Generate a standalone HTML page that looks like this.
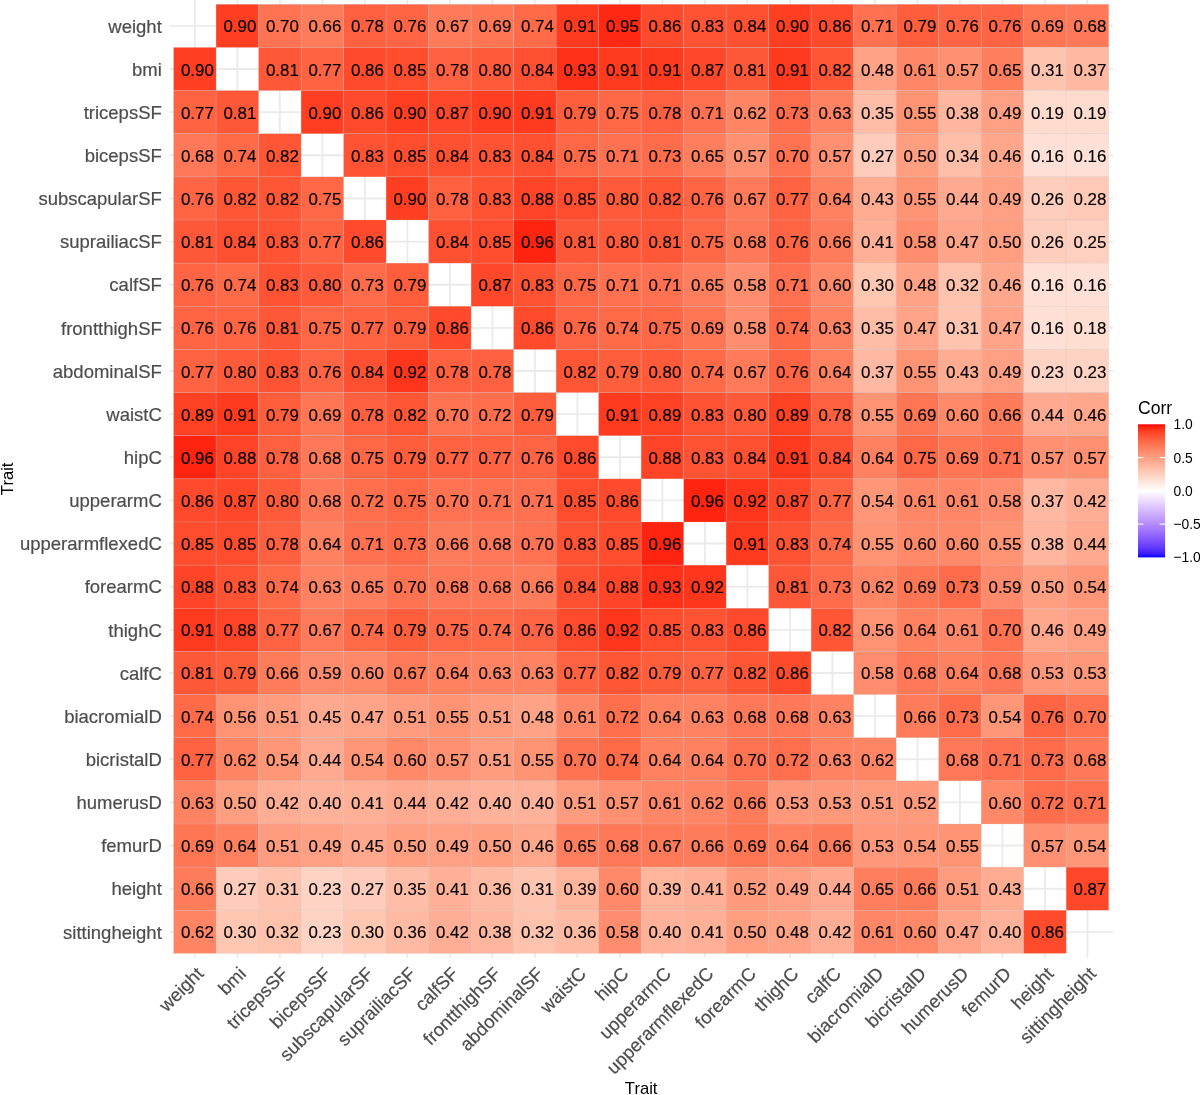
<!DOCTYPE html>
<html lang="en"><head><meta charset="utf-8"><title>Trait correlation heatmap</title>
<style>html,body{margin:0;padding:0;background:#fff}svg{display:block}text{font-family:"Liberation Sans",Arial,Helvetica,sans-serif}.t{font-size:16.9px;fill:#000;text-anchor:middle;stroke:#000;stroke-width:0.15px}.ay{font-size:18.5px;fill:#4d4d4d;text-anchor:end;stroke:#4d4d4d;stroke-width:0.2px}.ax{font-size:18.5px;fill:#4d4d4d;text-anchor:end;stroke:#4d4d4d;stroke-width:0.2px}.ti{font-size:16.6px;fill:#000}.lg{font-size:13.85px;fill:#000}</style></head><body>
<svg width="1200" height="1095" viewBox="0 0 1200 1095">
<rect width="1200" height="1095" fill="#fff"/>
<g stroke="#ebebeb" stroke-width="1.9">
<line x1="194.85" y1="-0.01" x2="194.85" y2="957.71"/>
<line x1="169.35" y1="25.87" x2="1112.95" y2="25.87"/>
<line x1="237.36" y1="-0.01" x2="237.36" y2="957.71"/>
<line x1="169.35" y1="69.01" x2="1112.95" y2="69.01"/>
<line x1="279.86" y1="-0.01" x2="279.86" y2="957.71"/>
<line x1="169.35" y1="112.15" x2="1112.95" y2="112.15"/>
<line x1="322.37" y1="-0.01" x2="322.37" y2="957.71"/>
<line x1="169.35" y1="155.29" x2="1112.95" y2="155.29"/>
<line x1="364.87" y1="-0.01" x2="364.87" y2="957.71"/>
<line x1="169.35" y1="198.43" x2="1112.95" y2="198.43"/>
<line x1="407.38" y1="-0.01" x2="407.38" y2="957.71"/>
<line x1="169.35" y1="241.58" x2="1112.95" y2="241.58"/>
<line x1="449.88" y1="-0.01" x2="449.88" y2="957.71"/>
<line x1="169.35" y1="284.72" x2="1112.95" y2="284.72"/>
<line x1="492.38" y1="-0.01" x2="492.38" y2="957.71"/>
<line x1="169.35" y1="327.86" x2="1112.95" y2="327.86"/>
<line x1="534.89" y1="-0.01" x2="534.89" y2="957.71"/>
<line x1="169.35" y1="371.00" x2="1112.95" y2="371.00"/>
<line x1="577.39" y1="-0.01" x2="577.39" y2="957.71"/>
<line x1="169.35" y1="414.14" x2="1112.95" y2="414.14"/>
<line x1="619.90" y1="-0.01" x2="619.90" y2="957.71"/>
<line x1="169.35" y1="457.28" x2="1112.95" y2="457.28"/>
<line x1="662.40" y1="-0.01" x2="662.40" y2="957.71"/>
<line x1="169.35" y1="500.42" x2="1112.95" y2="500.42"/>
<line x1="704.91" y1="-0.01" x2="704.91" y2="957.71"/>
<line x1="169.35" y1="543.56" x2="1112.95" y2="543.56"/>
<line x1="747.41" y1="-0.01" x2="747.41" y2="957.71"/>
<line x1="169.35" y1="586.70" x2="1112.95" y2="586.70"/>
<line x1="789.92" y1="-0.01" x2="789.92" y2="957.71"/>
<line x1="169.35" y1="629.84" x2="1112.95" y2="629.84"/>
<line x1="832.42" y1="-0.01" x2="832.42" y2="957.71"/>
<line x1="169.35" y1="672.98" x2="1112.95" y2="672.98"/>
<line x1="874.93" y1="-0.01" x2="874.93" y2="957.71"/>
<line x1="169.35" y1="716.12" x2="1112.95" y2="716.12"/>
<line x1="917.43" y1="-0.01" x2="917.43" y2="957.71"/>
<line x1="169.35" y1="759.27" x2="1112.95" y2="759.27"/>
<line x1="959.93" y1="-0.01" x2="959.93" y2="957.71"/>
<line x1="169.35" y1="802.41" x2="1112.95" y2="802.41"/>
<line x1="1002.44" y1="-0.01" x2="1002.44" y2="957.71"/>
<line x1="169.35" y1="845.55" x2="1112.95" y2="845.55"/>
<line x1="1044.94" y1="-0.01" x2="1044.94" y2="957.71"/>
<line x1="169.35" y1="888.69" x2="1112.95" y2="888.69"/>
<line x1="1087.45" y1="-0.01" x2="1087.45" y2="957.71"/>
<line x1="169.35" y1="931.83" x2="1112.95" y2="931.83"/>
</g>
<g stroke="#bebebe" stroke-opacity="0.35" stroke-width="0.6">
<rect x="216.10" y="4.30" width="42.50" height="43.14" fill="#ff3e22"/>
<rect x="258.61" y="4.30" width="42.50" height="43.14" fill="#ff7352"/>
<rect x="301.11" y="4.30" width="42.50" height="43.14" fill="#ff7c5b"/>
<rect x="343.62" y="4.30" width="42.50" height="43.14" fill="#ff603f"/>
<rect x="386.12" y="4.30" width="42.50" height="43.14" fill="#ff6544"/>
<rect x="428.63" y="4.30" width="42.50" height="43.14" fill="#ff7a59"/>
<rect x="471.13" y="4.30" width="42.50" height="43.14" fill="#ff7654"/>
<rect x="513.64" y="4.30" width="42.50" height="43.14" fill="#ff6a49"/>
<rect x="556.14" y="4.30" width="42.50" height="43.14" fill="#ff3a1f"/>
<rect x="598.65" y="4.30" width="42.50" height="43.14" fill="#ff2913"/>
<rect x="641.15" y="4.30" width="42.50" height="43.14" fill="#ff4a2c"/>
<rect x="683.65" y="4.30" width="42.50" height="43.14" fill="#ff5333"/>
<rect x="726.16" y="4.30" width="42.50" height="43.14" fill="#ff5031"/>
<rect x="768.66" y="4.30" width="42.50" height="43.14" fill="#ff3e22"/>
<rect x="811.17" y="4.30" width="42.50" height="43.14" fill="#ff4a2c"/>
<rect x="853.67" y="4.30" width="42.50" height="43.14" fill="#ff7150"/>
<rect x="896.18" y="4.30" width="42.50" height="43.14" fill="#ff5e3d"/>
<rect x="938.68" y="4.30" width="42.50" height="43.14" fill="#ff6544"/>
<rect x="981.19" y="4.30" width="42.50" height="43.14" fill="#ff6544"/>
<rect x="1023.69" y="4.30" width="42.50" height="43.14" fill="#ff7654"/>
<rect x="1066.20" y="4.30" width="42.50" height="43.14" fill="#ff7857"/>
<rect x="173.60" y="47.44" width="42.50" height="43.14" fill="#ff3e22"/>
<rect x="258.61" y="47.44" width="42.50" height="43.14" fill="#ff5838"/>
<rect x="301.11" y="47.44" width="42.50" height="43.14" fill="#ff6341"/>
<rect x="343.62" y="47.44" width="42.50" height="43.14" fill="#ff4a2c"/>
<rect x="386.12" y="47.44" width="42.50" height="43.14" fill="#ff4d2e"/>
<rect x="428.63" y="47.44" width="42.50" height="43.14" fill="#ff603f"/>
<rect x="471.13" y="47.44" width="42.50" height="43.14" fill="#ff5b3a"/>
<rect x="513.64" y="47.44" width="42.50" height="43.14" fill="#ff5031"/>
<rect x="556.14" y="47.44" width="42.50" height="43.14" fill="#ff3219"/>
<rect x="598.65" y="47.44" width="42.50" height="43.14" fill="#ff3a1f"/>
<rect x="641.15" y="47.44" width="42.50" height="43.14" fill="#ff3a1f"/>
<rect x="683.65" y="47.44" width="42.50" height="43.14" fill="#ff4729"/>
<rect x="726.16" y="47.44" width="42.50" height="43.14" fill="#ff5838"/>
<rect x="768.66" y="47.44" width="42.50" height="43.14" fill="#ff3a1f"/>
<rect x="811.17" y="47.44" width="42.50" height="43.14" fill="#ff5636"/>
<rect x="853.67" y="47.44" width="42.50" height="43.14" fill="#ffa286"/>
<rect x="896.18" y="47.44" width="42.50" height="43.14" fill="#ff8767"/>
<rect x="938.68" y="47.44" width="42.50" height="43.14" fill="#ff9071"/>
<rect x="981.19" y="47.44" width="42.50" height="43.14" fill="#ff7e5e"/>
<rect x="1023.69" y="47.44" width="42.50" height="43.14" fill="#ffc4b0"/>
<rect x="1066.20" y="47.44" width="42.50" height="43.14" fill="#ffb8a1"/>
<rect x="173.60" y="90.58" width="42.50" height="43.14" fill="#ff6341"/>
<rect x="216.10" y="90.58" width="42.50" height="43.14" fill="#ff5838"/>
<rect x="301.11" y="90.58" width="42.50" height="43.14" fill="#ff3e22"/>
<rect x="343.62" y="90.58" width="42.50" height="43.14" fill="#ff4a2c"/>
<rect x="386.12" y="90.58" width="42.50" height="43.14" fill="#ff3e22"/>
<rect x="428.63" y="90.58" width="42.50" height="43.14" fill="#ff4729"/>
<rect x="471.13" y="90.58" width="42.50" height="43.14" fill="#ff3e22"/>
<rect x="513.64" y="90.58" width="42.50" height="43.14" fill="#ff3a1f"/>
<rect x="556.14" y="90.58" width="42.50" height="43.14" fill="#ff5e3d"/>
<rect x="598.65" y="90.58" width="42.50" height="43.14" fill="#ff6846"/>
<rect x="641.15" y="90.58" width="42.50" height="43.14" fill="#ff603f"/>
<rect x="683.65" y="90.58" width="42.50" height="43.14" fill="#ff7150"/>
<rect x="726.16" y="90.58" width="42.50" height="43.14" fill="#ff8565"/>
<rect x="768.66" y="90.58" width="42.50" height="43.14" fill="#ff6c4b"/>
<rect x="811.17" y="90.58" width="42.50" height="43.14" fill="#ff8362"/>
<rect x="853.67" y="90.58" width="42.50" height="43.14" fill="#ffbca6"/>
<rect x="896.18" y="90.58" width="42.50" height="43.14" fill="#ff9475"/>
<rect x="938.68" y="90.58" width="42.50" height="43.14" fill="#ffb69e"/>
<rect x="981.19" y="90.58" width="42.50" height="43.14" fill="#ffa084"/>
<rect x="1023.69" y="90.58" width="42.50" height="43.14" fill="#ffdbce"/>
<rect x="1066.20" y="90.58" width="42.50" height="43.14" fill="#ffdbce"/>
<rect x="173.60" y="133.72" width="42.50" height="43.14" fill="#ff7857"/>
<rect x="216.10" y="133.72" width="42.50" height="43.14" fill="#ff6a49"/>
<rect x="258.61" y="133.72" width="42.50" height="43.14" fill="#ff5636"/>
<rect x="343.62" y="133.72" width="42.50" height="43.14" fill="#ff5333"/>
<rect x="386.12" y="133.72" width="42.50" height="43.14" fill="#ff4d2e"/>
<rect x="428.63" y="133.72" width="42.50" height="43.14" fill="#ff5031"/>
<rect x="471.13" y="133.72" width="42.50" height="43.14" fill="#ff5333"/>
<rect x="513.64" y="133.72" width="42.50" height="43.14" fill="#ff5031"/>
<rect x="556.14" y="133.72" width="42.50" height="43.14" fill="#ff6846"/>
<rect x="598.65" y="133.72" width="42.50" height="43.14" fill="#ff7150"/>
<rect x="641.15" y="133.72" width="42.50" height="43.14" fill="#ff6c4b"/>
<rect x="683.65" y="133.72" width="42.50" height="43.14" fill="#ff7e5e"/>
<rect x="726.16" y="133.72" width="42.50" height="43.14" fill="#ff9071"/>
<rect x="768.66" y="133.72" width="42.50" height="43.14" fill="#ff7352"/>
<rect x="811.17" y="133.72" width="42.50" height="43.14" fill="#ff9071"/>
<rect x="853.67" y="133.72" width="42.50" height="43.14" fill="#ffcbba"/>
<rect x="896.18" y="133.72" width="42.50" height="43.14" fill="#ff9e81"/>
<rect x="938.68" y="133.72" width="42.50" height="43.14" fill="#ffbea8"/>
<rect x="981.19" y="133.72" width="42.50" height="43.14" fill="#ffa68b"/>
<rect x="1023.69" y="133.72" width="42.50" height="43.14" fill="#ffe0d6"/>
<rect x="1066.20" y="133.72" width="42.50" height="43.14" fill="#ffe0d6"/>
<rect x="173.60" y="176.86" width="42.50" height="43.14" fill="#ff6544"/>
<rect x="216.10" y="176.86" width="42.50" height="43.14" fill="#ff5636"/>
<rect x="258.61" y="176.86" width="42.50" height="43.14" fill="#ff5636"/>
<rect x="301.11" y="176.86" width="42.50" height="43.14" fill="#ff6846"/>
<rect x="386.12" y="176.86" width="42.50" height="43.14" fill="#ff3e22"/>
<rect x="428.63" y="176.86" width="42.50" height="43.14" fill="#ff603f"/>
<rect x="471.13" y="176.86" width="42.50" height="43.14" fill="#ff5333"/>
<rect x="513.64" y="176.86" width="42.50" height="43.14" fill="#ff4427"/>
<rect x="556.14" y="176.86" width="42.50" height="43.14" fill="#ff4d2e"/>
<rect x="598.65" y="176.86" width="42.50" height="43.14" fill="#ff5b3a"/>
<rect x="641.15" y="176.86" width="42.50" height="43.14" fill="#ff5636"/>
<rect x="683.65" y="176.86" width="42.50" height="43.14" fill="#ff6544"/>
<rect x="726.16" y="176.86" width="42.50" height="43.14" fill="#ff7a59"/>
<rect x="768.66" y="176.86" width="42.50" height="43.14" fill="#ff6341"/>
<rect x="811.17" y="176.86" width="42.50" height="43.14" fill="#ff8160"/>
<rect x="853.67" y="176.86" width="42.50" height="43.14" fill="#ffac92"/>
<rect x="896.18" y="176.86" width="42.50" height="43.14" fill="#ff9475"/>
<rect x="938.68" y="176.86" width="42.50" height="43.14" fill="#ffaa90"/>
<rect x="981.19" y="176.86" width="42.50" height="43.14" fill="#ffa084"/>
<rect x="1023.69" y="176.86" width="42.50" height="43.14" fill="#ffcdbc"/>
<rect x="1066.20" y="176.86" width="42.50" height="43.14" fill="#ffc9b7"/>
<rect x="173.60" y="220.00" width="42.50" height="43.14" fill="#ff5838"/>
<rect x="216.10" y="220.00" width="42.50" height="43.14" fill="#ff5031"/>
<rect x="258.61" y="220.00" width="42.50" height="43.14" fill="#ff5333"/>
<rect x="301.11" y="220.00" width="42.50" height="43.14" fill="#ff6341"/>
<rect x="343.62" y="220.00" width="42.50" height="43.14" fill="#ff4a2c"/>
<rect x="428.63" y="220.00" width="42.50" height="43.14" fill="#ff5031"/>
<rect x="471.13" y="220.00" width="42.50" height="43.14" fill="#ff4d2e"/>
<rect x="513.64" y="220.00" width="42.50" height="43.14" fill="#ff2410"/>
<rect x="556.14" y="220.00" width="42.50" height="43.14" fill="#ff5838"/>
<rect x="598.65" y="220.00" width="42.50" height="43.14" fill="#ff5b3a"/>
<rect x="641.15" y="220.00" width="42.50" height="43.14" fill="#ff5838"/>
<rect x="683.65" y="220.00" width="42.50" height="43.14" fill="#ff6846"/>
<rect x="726.16" y="220.00" width="42.50" height="43.14" fill="#ff7857"/>
<rect x="768.66" y="220.00" width="42.50" height="43.14" fill="#ff6544"/>
<rect x="811.17" y="220.00" width="42.50" height="43.14" fill="#ff7c5b"/>
<rect x="853.67" y="220.00" width="42.50" height="43.14" fill="#ffb097"/>
<rect x="896.18" y="220.00" width="42.50" height="43.14" fill="#ff8d6e"/>
<rect x="938.68" y="220.00" width="42.50" height="43.14" fill="#ffa488"/>
<rect x="981.19" y="220.00" width="42.50" height="43.14" fill="#ff9e81"/>
<rect x="1023.69" y="220.00" width="42.50" height="43.14" fill="#ffcdbc"/>
<rect x="1066.20" y="220.00" width="42.50" height="43.14" fill="#ffcfbf"/>
<rect x="173.60" y="263.15" width="42.50" height="43.14" fill="#ff6544"/>
<rect x="216.10" y="263.15" width="42.50" height="43.14" fill="#ff6a49"/>
<rect x="258.61" y="263.15" width="42.50" height="43.14" fill="#ff5333"/>
<rect x="301.11" y="263.15" width="42.50" height="43.14" fill="#ff5b3a"/>
<rect x="343.62" y="263.15" width="42.50" height="43.14" fill="#ff6c4b"/>
<rect x="386.12" y="263.15" width="42.50" height="43.14" fill="#ff5e3d"/>
<rect x="471.13" y="263.15" width="42.50" height="43.14" fill="#ff4729"/>
<rect x="513.64" y="263.15" width="42.50" height="43.14" fill="#ff5333"/>
<rect x="556.14" y="263.15" width="42.50" height="43.14" fill="#ff6846"/>
<rect x="598.65" y="263.15" width="42.50" height="43.14" fill="#ff7150"/>
<rect x="641.15" y="263.15" width="42.50" height="43.14" fill="#ff7150"/>
<rect x="683.65" y="263.15" width="42.50" height="43.14" fill="#ff7e5e"/>
<rect x="726.16" y="263.15" width="42.50" height="43.14" fill="#ff8d6e"/>
<rect x="768.66" y="263.15" width="42.50" height="43.14" fill="#ff7150"/>
<rect x="811.17" y="263.15" width="42.50" height="43.14" fill="#ff8969"/>
<rect x="853.67" y="263.15" width="42.50" height="43.14" fill="#ffc6b2"/>
<rect x="896.18" y="263.15" width="42.50" height="43.14" fill="#ffa286"/>
<rect x="938.68" y="263.15" width="42.50" height="43.14" fill="#ffc2ad"/>
<rect x="981.19" y="263.15" width="42.50" height="43.14" fill="#ffa68b"/>
<rect x="1023.69" y="263.15" width="42.50" height="43.14" fill="#ffe0d6"/>
<rect x="1066.20" y="263.15" width="42.50" height="43.14" fill="#ffe0d6"/>
<rect x="173.60" y="306.29" width="42.50" height="43.14" fill="#ff6544"/>
<rect x="216.10" y="306.29" width="42.50" height="43.14" fill="#ff6544"/>
<rect x="258.61" y="306.29" width="42.50" height="43.14" fill="#ff5838"/>
<rect x="301.11" y="306.29" width="42.50" height="43.14" fill="#ff6846"/>
<rect x="343.62" y="306.29" width="42.50" height="43.14" fill="#ff6341"/>
<rect x="386.12" y="306.29" width="42.50" height="43.14" fill="#ff5e3d"/>
<rect x="428.63" y="306.29" width="42.50" height="43.14" fill="#ff4a2c"/>
<rect x="513.64" y="306.29" width="42.50" height="43.14" fill="#ff4a2c"/>
<rect x="556.14" y="306.29" width="42.50" height="43.14" fill="#ff6544"/>
<rect x="598.65" y="306.29" width="42.50" height="43.14" fill="#ff6a49"/>
<rect x="641.15" y="306.29" width="42.50" height="43.14" fill="#ff6846"/>
<rect x="683.65" y="306.29" width="42.50" height="43.14" fill="#ff7654"/>
<rect x="726.16" y="306.29" width="42.50" height="43.14" fill="#ff8d6e"/>
<rect x="768.66" y="306.29" width="42.50" height="43.14" fill="#ff6a49"/>
<rect x="811.17" y="306.29" width="42.50" height="43.14" fill="#ff8362"/>
<rect x="853.67" y="306.29" width="42.50" height="43.14" fill="#ffbca6"/>
<rect x="896.18" y="306.29" width="42.50" height="43.14" fill="#ffa488"/>
<rect x="938.68" y="306.29" width="42.50" height="43.14" fill="#ffc4b0"/>
<rect x="981.19" y="306.29" width="42.50" height="43.14" fill="#ffa488"/>
<rect x="1023.69" y="306.29" width="42.50" height="43.14" fill="#ffe0d6"/>
<rect x="1066.20" y="306.29" width="42.50" height="43.14" fill="#ffddd0"/>
<rect x="173.60" y="349.43" width="42.50" height="43.14" fill="#ff6341"/>
<rect x="216.10" y="349.43" width="42.50" height="43.14" fill="#ff5b3a"/>
<rect x="258.61" y="349.43" width="42.50" height="43.14" fill="#ff5333"/>
<rect x="301.11" y="349.43" width="42.50" height="43.14" fill="#ff6544"/>
<rect x="343.62" y="349.43" width="42.50" height="43.14" fill="#ff5031"/>
<rect x="386.12" y="349.43" width="42.50" height="43.14" fill="#ff361c"/>
<rect x="428.63" y="349.43" width="42.50" height="43.14" fill="#ff603f"/>
<rect x="471.13" y="349.43" width="42.50" height="43.14" fill="#ff603f"/>
<rect x="556.14" y="349.43" width="42.50" height="43.14" fill="#ff5636"/>
<rect x="598.65" y="349.43" width="42.50" height="43.14" fill="#ff5e3d"/>
<rect x="641.15" y="349.43" width="42.50" height="43.14" fill="#ff5b3a"/>
<rect x="683.65" y="349.43" width="42.50" height="43.14" fill="#ff6a49"/>
<rect x="726.16" y="349.43" width="42.50" height="43.14" fill="#ff7a59"/>
<rect x="768.66" y="349.43" width="42.50" height="43.14" fill="#ff6544"/>
<rect x="811.17" y="349.43" width="42.50" height="43.14" fill="#ff8160"/>
<rect x="853.67" y="349.43" width="42.50" height="43.14" fill="#ffb8a1"/>
<rect x="896.18" y="349.43" width="42.50" height="43.14" fill="#ff9475"/>
<rect x="938.68" y="349.43" width="42.50" height="43.14" fill="#ffac92"/>
<rect x="981.19" y="349.43" width="42.50" height="43.14" fill="#ffa084"/>
<rect x="1023.69" y="349.43" width="42.50" height="43.14" fill="#ffd3c4"/>
<rect x="1066.20" y="349.43" width="42.50" height="43.14" fill="#ffd3c4"/>
<rect x="173.60" y="392.57" width="42.50" height="43.14" fill="#ff4124"/>
<rect x="216.10" y="392.57" width="42.50" height="43.14" fill="#ff3a1f"/>
<rect x="258.61" y="392.57" width="42.50" height="43.14" fill="#ff5e3d"/>
<rect x="301.11" y="392.57" width="42.50" height="43.14" fill="#ff7654"/>
<rect x="343.62" y="392.57" width="42.50" height="43.14" fill="#ff603f"/>
<rect x="386.12" y="392.57" width="42.50" height="43.14" fill="#ff5636"/>
<rect x="428.63" y="392.57" width="42.50" height="43.14" fill="#ff7352"/>
<rect x="471.13" y="392.57" width="42.50" height="43.14" fill="#ff6f4d"/>
<rect x="513.64" y="392.57" width="42.50" height="43.14" fill="#ff5e3d"/>
<rect x="598.65" y="392.57" width="42.50" height="43.14" fill="#ff3a1f"/>
<rect x="641.15" y="392.57" width="42.50" height="43.14" fill="#ff4124"/>
<rect x="683.65" y="392.57" width="42.50" height="43.14" fill="#ff5333"/>
<rect x="726.16" y="392.57" width="42.50" height="43.14" fill="#ff5b3a"/>
<rect x="768.66" y="392.57" width="42.50" height="43.14" fill="#ff4124"/>
<rect x="811.17" y="392.57" width="42.50" height="43.14" fill="#ff603f"/>
<rect x="853.67" y="392.57" width="42.50" height="43.14" fill="#ff9475"/>
<rect x="896.18" y="392.57" width="42.50" height="43.14" fill="#ff7654"/>
<rect x="938.68" y="392.57" width="42.50" height="43.14" fill="#ff8969"/>
<rect x="981.19" y="392.57" width="42.50" height="43.14" fill="#ff7c5b"/>
<rect x="1023.69" y="392.57" width="42.50" height="43.14" fill="#ffaa90"/>
<rect x="1066.20" y="392.57" width="42.50" height="43.14" fill="#ffa68b"/>
<rect x="173.60" y="435.71" width="42.50" height="43.14" fill="#ff2410"/>
<rect x="216.10" y="435.71" width="42.50" height="43.14" fill="#ff4427"/>
<rect x="258.61" y="435.71" width="42.50" height="43.14" fill="#ff603f"/>
<rect x="301.11" y="435.71" width="42.50" height="43.14" fill="#ff7857"/>
<rect x="343.62" y="435.71" width="42.50" height="43.14" fill="#ff6846"/>
<rect x="386.12" y="435.71" width="42.50" height="43.14" fill="#ff5e3d"/>
<rect x="428.63" y="435.71" width="42.50" height="43.14" fill="#ff6341"/>
<rect x="471.13" y="435.71" width="42.50" height="43.14" fill="#ff6341"/>
<rect x="513.64" y="435.71" width="42.50" height="43.14" fill="#ff6544"/>
<rect x="556.14" y="435.71" width="42.50" height="43.14" fill="#ff4a2c"/>
<rect x="641.15" y="435.71" width="42.50" height="43.14" fill="#ff4427"/>
<rect x="683.65" y="435.71" width="42.50" height="43.14" fill="#ff5333"/>
<rect x="726.16" y="435.71" width="42.50" height="43.14" fill="#ff5031"/>
<rect x="768.66" y="435.71" width="42.50" height="43.14" fill="#ff3a1f"/>
<rect x="811.17" y="435.71" width="42.50" height="43.14" fill="#ff5031"/>
<rect x="853.67" y="435.71" width="42.50" height="43.14" fill="#ff8160"/>
<rect x="896.18" y="435.71" width="42.50" height="43.14" fill="#ff6846"/>
<rect x="938.68" y="435.71" width="42.50" height="43.14" fill="#ff7654"/>
<rect x="981.19" y="435.71" width="42.50" height="43.14" fill="#ff7150"/>
<rect x="1023.69" y="435.71" width="42.50" height="43.14" fill="#ff9071"/>
<rect x="1066.20" y="435.71" width="42.50" height="43.14" fill="#ff9071"/>
<rect x="173.60" y="478.85" width="42.50" height="43.14" fill="#ff4a2c"/>
<rect x="216.10" y="478.85" width="42.50" height="43.14" fill="#ff4729"/>
<rect x="258.61" y="478.85" width="42.50" height="43.14" fill="#ff5b3a"/>
<rect x="301.11" y="478.85" width="42.50" height="43.14" fill="#ff7857"/>
<rect x="343.62" y="478.85" width="42.50" height="43.14" fill="#ff6f4d"/>
<rect x="386.12" y="478.85" width="42.50" height="43.14" fill="#ff6846"/>
<rect x="428.63" y="478.85" width="42.50" height="43.14" fill="#ff7352"/>
<rect x="471.13" y="478.85" width="42.50" height="43.14" fill="#ff7150"/>
<rect x="513.64" y="478.85" width="42.50" height="43.14" fill="#ff7150"/>
<rect x="556.14" y="478.85" width="42.50" height="43.14" fill="#ff4d2e"/>
<rect x="598.65" y="478.85" width="42.50" height="43.14" fill="#ff4a2c"/>
<rect x="683.65" y="478.85" width="42.50" height="43.14" fill="#ff2410"/>
<rect x="726.16" y="478.85" width="42.50" height="43.14" fill="#ff361c"/>
<rect x="768.66" y="478.85" width="42.50" height="43.14" fill="#ff4729"/>
<rect x="811.17" y="478.85" width="42.50" height="43.14" fill="#ff6341"/>
<rect x="853.67" y="478.85" width="42.50" height="43.14" fill="#ff9678"/>
<rect x="896.18" y="478.85" width="42.50" height="43.14" fill="#ff8767"/>
<rect x="938.68" y="478.85" width="42.50" height="43.14" fill="#ff8767"/>
<rect x="981.19" y="478.85" width="42.50" height="43.14" fill="#ff8d6e"/>
<rect x="1023.69" y="478.85" width="42.50" height="43.14" fill="#ffb8a1"/>
<rect x="1066.20" y="478.85" width="42.50" height="43.14" fill="#ffae95"/>
<rect x="173.60" y="521.99" width="42.50" height="43.14" fill="#ff4d2e"/>
<rect x="216.10" y="521.99" width="42.50" height="43.14" fill="#ff4d2e"/>
<rect x="258.61" y="521.99" width="42.50" height="43.14" fill="#ff603f"/>
<rect x="301.11" y="521.99" width="42.50" height="43.14" fill="#ff8160"/>
<rect x="343.62" y="521.99" width="42.50" height="43.14" fill="#ff7150"/>
<rect x="386.12" y="521.99" width="42.50" height="43.14" fill="#ff6c4b"/>
<rect x="428.63" y="521.99" width="42.50" height="43.14" fill="#ff7c5b"/>
<rect x="471.13" y="521.99" width="42.50" height="43.14" fill="#ff7857"/>
<rect x="513.64" y="521.99" width="42.50" height="43.14" fill="#ff7352"/>
<rect x="556.14" y="521.99" width="42.50" height="43.14" fill="#ff5333"/>
<rect x="598.65" y="521.99" width="42.50" height="43.14" fill="#ff4d2e"/>
<rect x="641.15" y="521.99" width="42.50" height="43.14" fill="#ff2410"/>
<rect x="726.16" y="521.99" width="42.50" height="43.14" fill="#ff3a1f"/>
<rect x="768.66" y="521.99" width="42.50" height="43.14" fill="#ff5333"/>
<rect x="811.17" y="521.99" width="42.50" height="43.14" fill="#ff6a49"/>
<rect x="853.67" y="521.99" width="42.50" height="43.14" fill="#ff9475"/>
<rect x="896.18" y="521.99" width="42.50" height="43.14" fill="#ff8969"/>
<rect x="938.68" y="521.99" width="42.50" height="43.14" fill="#ff8969"/>
<rect x="981.19" y="521.99" width="42.50" height="43.14" fill="#ff9475"/>
<rect x="1023.69" y="521.99" width="42.50" height="43.14" fill="#ffb69e"/>
<rect x="1066.20" y="521.99" width="42.50" height="43.14" fill="#ffaa90"/>
<rect x="173.60" y="565.13" width="42.50" height="43.14" fill="#ff4427"/>
<rect x="216.10" y="565.13" width="42.50" height="43.14" fill="#ff5333"/>
<rect x="258.61" y="565.13" width="42.50" height="43.14" fill="#ff6a49"/>
<rect x="301.11" y="565.13" width="42.50" height="43.14" fill="#ff8362"/>
<rect x="343.62" y="565.13" width="42.50" height="43.14" fill="#ff7e5e"/>
<rect x="386.12" y="565.13" width="42.50" height="43.14" fill="#ff7352"/>
<rect x="428.63" y="565.13" width="42.50" height="43.14" fill="#ff7857"/>
<rect x="471.13" y="565.13" width="42.50" height="43.14" fill="#ff7857"/>
<rect x="513.64" y="565.13" width="42.50" height="43.14" fill="#ff7c5b"/>
<rect x="556.14" y="565.13" width="42.50" height="43.14" fill="#ff5031"/>
<rect x="598.65" y="565.13" width="42.50" height="43.14" fill="#ff4427"/>
<rect x="641.15" y="565.13" width="42.50" height="43.14" fill="#ff3219"/>
<rect x="683.65" y="565.13" width="42.50" height="43.14" fill="#ff361c"/>
<rect x="768.66" y="565.13" width="42.50" height="43.14" fill="#ff5838"/>
<rect x="811.17" y="565.13" width="42.50" height="43.14" fill="#ff6c4b"/>
<rect x="853.67" y="565.13" width="42.50" height="43.14" fill="#ff8565"/>
<rect x="896.18" y="565.13" width="42.50" height="43.14" fill="#ff7654"/>
<rect x="938.68" y="565.13" width="42.50" height="43.14" fill="#ff6c4b"/>
<rect x="981.19" y="565.13" width="42.50" height="43.14" fill="#ff8b6c"/>
<rect x="1023.69" y="565.13" width="42.50" height="43.14" fill="#ff9e81"/>
<rect x="1066.20" y="565.13" width="42.50" height="43.14" fill="#ff9678"/>
<rect x="173.60" y="608.27" width="42.50" height="43.14" fill="#ff3a1f"/>
<rect x="216.10" y="608.27" width="42.50" height="43.14" fill="#ff4427"/>
<rect x="258.61" y="608.27" width="42.50" height="43.14" fill="#ff6341"/>
<rect x="301.11" y="608.27" width="42.50" height="43.14" fill="#ff7a59"/>
<rect x="343.62" y="608.27" width="42.50" height="43.14" fill="#ff6a49"/>
<rect x="386.12" y="608.27" width="42.50" height="43.14" fill="#ff5e3d"/>
<rect x="428.63" y="608.27" width="42.50" height="43.14" fill="#ff6846"/>
<rect x="471.13" y="608.27" width="42.50" height="43.14" fill="#ff6a49"/>
<rect x="513.64" y="608.27" width="42.50" height="43.14" fill="#ff6544"/>
<rect x="556.14" y="608.27" width="42.50" height="43.14" fill="#ff4a2c"/>
<rect x="598.65" y="608.27" width="42.50" height="43.14" fill="#ff361c"/>
<rect x="641.15" y="608.27" width="42.50" height="43.14" fill="#ff4d2e"/>
<rect x="683.65" y="608.27" width="42.50" height="43.14" fill="#ff5333"/>
<rect x="726.16" y="608.27" width="42.50" height="43.14" fill="#ff4a2c"/>
<rect x="811.17" y="608.27" width="42.50" height="43.14" fill="#ff5636"/>
<rect x="853.67" y="608.27" width="42.50" height="43.14" fill="#ff9273"/>
<rect x="896.18" y="608.27" width="42.50" height="43.14" fill="#ff8160"/>
<rect x="938.68" y="608.27" width="42.50" height="43.14" fill="#ff8767"/>
<rect x="981.19" y="608.27" width="42.50" height="43.14" fill="#ff7352"/>
<rect x="1023.69" y="608.27" width="42.50" height="43.14" fill="#ffa68b"/>
<rect x="1066.20" y="608.27" width="42.50" height="43.14" fill="#ffa084"/>
<rect x="173.60" y="651.41" width="42.50" height="43.14" fill="#ff5838"/>
<rect x="216.10" y="651.41" width="42.50" height="43.14" fill="#ff5e3d"/>
<rect x="258.61" y="651.41" width="42.50" height="43.14" fill="#ff7c5b"/>
<rect x="301.11" y="651.41" width="42.50" height="43.14" fill="#ff8b6c"/>
<rect x="343.62" y="651.41" width="42.50" height="43.14" fill="#ff8969"/>
<rect x="386.12" y="651.41" width="42.50" height="43.14" fill="#ff7a59"/>
<rect x="428.63" y="651.41" width="42.50" height="43.14" fill="#ff8160"/>
<rect x="471.13" y="651.41" width="42.50" height="43.14" fill="#ff8362"/>
<rect x="513.64" y="651.41" width="42.50" height="43.14" fill="#ff8362"/>
<rect x="556.14" y="651.41" width="42.50" height="43.14" fill="#ff6341"/>
<rect x="598.65" y="651.41" width="42.50" height="43.14" fill="#ff5636"/>
<rect x="641.15" y="651.41" width="42.50" height="43.14" fill="#ff5e3d"/>
<rect x="683.65" y="651.41" width="42.50" height="43.14" fill="#ff6341"/>
<rect x="726.16" y="651.41" width="42.50" height="43.14" fill="#ff5636"/>
<rect x="768.66" y="651.41" width="42.50" height="43.14" fill="#ff4a2c"/>
<rect x="853.67" y="651.41" width="42.50" height="43.14" fill="#ff8d6e"/>
<rect x="896.18" y="651.41" width="42.50" height="43.14" fill="#ff7857"/>
<rect x="938.68" y="651.41" width="42.50" height="43.14" fill="#ff8160"/>
<rect x="981.19" y="651.41" width="42.50" height="43.14" fill="#ff7857"/>
<rect x="1023.69" y="651.41" width="42.50" height="43.14" fill="#ff987a"/>
<rect x="1066.20" y="651.41" width="42.50" height="43.14" fill="#ff987a"/>
<rect x="173.60" y="694.55" width="42.50" height="43.14" fill="#ff6a49"/>
<rect x="216.10" y="694.55" width="42.50" height="43.14" fill="#ff9273"/>
<rect x="258.61" y="694.55" width="42.50" height="43.14" fill="#ff9c7f"/>
<rect x="301.11" y="694.55" width="42.50" height="43.14" fill="#ffa88d"/>
<rect x="343.62" y="694.55" width="42.50" height="43.14" fill="#ffa488"/>
<rect x="386.12" y="694.55" width="42.50" height="43.14" fill="#ff9c7f"/>
<rect x="428.63" y="694.55" width="42.50" height="43.14" fill="#ff9475"/>
<rect x="471.13" y="694.55" width="42.50" height="43.14" fill="#ff9c7f"/>
<rect x="513.64" y="694.55" width="42.50" height="43.14" fill="#ffa286"/>
<rect x="556.14" y="694.55" width="42.50" height="43.14" fill="#ff8767"/>
<rect x="598.65" y="694.55" width="42.50" height="43.14" fill="#ff6f4d"/>
<rect x="641.15" y="694.55" width="42.50" height="43.14" fill="#ff8160"/>
<rect x="683.65" y="694.55" width="42.50" height="43.14" fill="#ff8362"/>
<rect x="726.16" y="694.55" width="42.50" height="43.14" fill="#ff7857"/>
<rect x="768.66" y="694.55" width="42.50" height="43.14" fill="#ff7857"/>
<rect x="811.17" y="694.55" width="42.50" height="43.14" fill="#ff8362"/>
<rect x="896.18" y="694.55" width="42.50" height="43.14" fill="#ff7c5b"/>
<rect x="938.68" y="694.55" width="42.50" height="43.14" fill="#ff6c4b"/>
<rect x="981.19" y="694.55" width="42.50" height="43.14" fill="#ff9678"/>
<rect x="1023.69" y="694.55" width="42.50" height="43.14" fill="#ff6544"/>
<rect x="1066.20" y="694.55" width="42.50" height="43.14" fill="#ff7352"/>
<rect x="173.60" y="737.70" width="42.50" height="43.14" fill="#ff6341"/>
<rect x="216.10" y="737.70" width="42.50" height="43.14" fill="#ff8565"/>
<rect x="258.61" y="737.70" width="42.50" height="43.14" fill="#ff9678"/>
<rect x="301.11" y="737.70" width="42.50" height="43.14" fill="#ffaa90"/>
<rect x="343.62" y="737.70" width="42.50" height="43.14" fill="#ff9678"/>
<rect x="386.12" y="737.70" width="42.50" height="43.14" fill="#ff8969"/>
<rect x="428.63" y="737.70" width="42.50" height="43.14" fill="#ff9071"/>
<rect x="471.13" y="737.70" width="42.50" height="43.14" fill="#ff9c7f"/>
<rect x="513.64" y="737.70" width="42.50" height="43.14" fill="#ff9475"/>
<rect x="556.14" y="737.70" width="42.50" height="43.14" fill="#ff7352"/>
<rect x="598.65" y="737.70" width="42.50" height="43.14" fill="#ff6a49"/>
<rect x="641.15" y="737.70" width="42.50" height="43.14" fill="#ff8160"/>
<rect x="683.65" y="737.70" width="42.50" height="43.14" fill="#ff8160"/>
<rect x="726.16" y="737.70" width="42.50" height="43.14" fill="#ff7352"/>
<rect x="768.66" y="737.70" width="42.50" height="43.14" fill="#ff6f4d"/>
<rect x="811.17" y="737.70" width="42.50" height="43.14" fill="#ff8362"/>
<rect x="853.67" y="737.70" width="42.50" height="43.14" fill="#ff8565"/>
<rect x="938.68" y="737.70" width="42.50" height="43.14" fill="#ff7857"/>
<rect x="981.19" y="737.70" width="42.50" height="43.14" fill="#ff7150"/>
<rect x="1023.69" y="737.70" width="42.50" height="43.14" fill="#ff6c4b"/>
<rect x="1066.20" y="737.70" width="42.50" height="43.14" fill="#ff7857"/>
<rect x="173.60" y="780.84" width="42.50" height="43.14" fill="#ff8362"/>
<rect x="216.10" y="780.84" width="42.50" height="43.14" fill="#ff9e81"/>
<rect x="258.61" y="780.84" width="42.50" height="43.14" fill="#ffae95"/>
<rect x="301.11" y="780.84" width="42.50" height="43.14" fill="#ffb299"/>
<rect x="343.62" y="780.84" width="42.50" height="43.14" fill="#ffb097"/>
<rect x="386.12" y="780.84" width="42.50" height="43.14" fill="#ffaa90"/>
<rect x="428.63" y="780.84" width="42.50" height="43.14" fill="#ffae95"/>
<rect x="471.13" y="780.84" width="42.50" height="43.14" fill="#ffb299"/>
<rect x="513.64" y="780.84" width="42.50" height="43.14" fill="#ffb299"/>
<rect x="556.14" y="780.84" width="42.50" height="43.14" fill="#ff9c7f"/>
<rect x="598.65" y="780.84" width="42.50" height="43.14" fill="#ff9071"/>
<rect x="641.15" y="780.84" width="42.50" height="43.14" fill="#ff8767"/>
<rect x="683.65" y="780.84" width="42.50" height="43.14" fill="#ff8565"/>
<rect x="726.16" y="780.84" width="42.50" height="43.14" fill="#ff7c5b"/>
<rect x="768.66" y="780.84" width="42.50" height="43.14" fill="#ff987a"/>
<rect x="811.17" y="780.84" width="42.50" height="43.14" fill="#ff987a"/>
<rect x="853.67" y="780.84" width="42.50" height="43.14" fill="#ff9c7f"/>
<rect x="896.18" y="780.84" width="42.50" height="43.14" fill="#ff9a7c"/>
<rect x="981.19" y="780.84" width="42.50" height="43.14" fill="#ff8969"/>
<rect x="1023.69" y="780.84" width="42.50" height="43.14" fill="#ff6f4d"/>
<rect x="1066.20" y="780.84" width="42.50" height="43.14" fill="#ff7150"/>
<rect x="173.60" y="823.98" width="42.50" height="43.14" fill="#ff7654"/>
<rect x="216.10" y="823.98" width="42.50" height="43.14" fill="#ff8160"/>
<rect x="258.61" y="823.98" width="42.50" height="43.14" fill="#ff9c7f"/>
<rect x="301.11" y="823.98" width="42.50" height="43.14" fill="#ffa084"/>
<rect x="343.62" y="823.98" width="42.50" height="43.14" fill="#ffa88d"/>
<rect x="386.12" y="823.98" width="42.50" height="43.14" fill="#ff9e81"/>
<rect x="428.63" y="823.98" width="42.50" height="43.14" fill="#ffa084"/>
<rect x="471.13" y="823.98" width="42.50" height="43.14" fill="#ff9e81"/>
<rect x="513.64" y="823.98" width="42.50" height="43.14" fill="#ffa68b"/>
<rect x="556.14" y="823.98" width="42.50" height="43.14" fill="#ff7e5e"/>
<rect x="598.65" y="823.98" width="42.50" height="43.14" fill="#ff7857"/>
<rect x="641.15" y="823.98" width="42.50" height="43.14" fill="#ff7a59"/>
<rect x="683.65" y="823.98" width="42.50" height="43.14" fill="#ff7c5b"/>
<rect x="726.16" y="823.98" width="42.50" height="43.14" fill="#ff7654"/>
<rect x="768.66" y="823.98" width="42.50" height="43.14" fill="#ff8160"/>
<rect x="811.17" y="823.98" width="42.50" height="43.14" fill="#ff7c5b"/>
<rect x="853.67" y="823.98" width="42.50" height="43.14" fill="#ff987a"/>
<rect x="896.18" y="823.98" width="42.50" height="43.14" fill="#ff9678"/>
<rect x="938.68" y="823.98" width="42.50" height="43.14" fill="#ff9475"/>
<rect x="1023.69" y="823.98" width="42.50" height="43.14" fill="#ff9071"/>
<rect x="1066.20" y="823.98" width="42.50" height="43.14" fill="#ff9678"/>
<rect x="173.60" y="867.12" width="42.50" height="43.14" fill="#ff7c5b"/>
<rect x="216.10" y="867.12" width="42.50" height="43.14" fill="#ffcbba"/>
<rect x="258.61" y="867.12" width="42.50" height="43.14" fill="#ffc4b0"/>
<rect x="301.11" y="867.12" width="42.50" height="43.14" fill="#ffd3c4"/>
<rect x="343.62" y="867.12" width="42.50" height="43.14" fill="#ffcbba"/>
<rect x="386.12" y="867.12" width="42.50" height="43.14" fill="#ffbca6"/>
<rect x="428.63" y="867.12" width="42.50" height="43.14" fill="#ffb097"/>
<rect x="471.13" y="867.12" width="42.50" height="43.14" fill="#ffbaa3"/>
<rect x="513.64" y="867.12" width="42.50" height="43.14" fill="#ffc4b0"/>
<rect x="556.14" y="867.12" width="42.50" height="43.14" fill="#ffb49c"/>
<rect x="598.65" y="867.12" width="42.50" height="43.14" fill="#ff8969"/>
<rect x="641.15" y="867.12" width="42.50" height="43.14" fill="#ffb49c"/>
<rect x="683.65" y="867.12" width="42.50" height="43.14" fill="#ffb097"/>
<rect x="726.16" y="867.12" width="42.50" height="43.14" fill="#ff9a7c"/>
<rect x="768.66" y="867.12" width="42.50" height="43.14" fill="#ffa084"/>
<rect x="811.17" y="867.12" width="42.50" height="43.14" fill="#ffaa90"/>
<rect x="853.67" y="867.12" width="42.50" height="43.14" fill="#ff7e5e"/>
<rect x="896.18" y="867.12" width="42.50" height="43.14" fill="#ff7c5b"/>
<rect x="938.68" y="867.12" width="42.50" height="43.14" fill="#ff9c7f"/>
<rect x="981.19" y="867.12" width="42.50" height="43.14" fill="#ffac92"/>
<rect x="1066.20" y="867.12" width="42.50" height="43.14" fill="#ff4729"/>
<rect x="173.60" y="910.26" width="42.50" height="43.14" fill="#ff8565"/>
<rect x="216.10" y="910.26" width="42.50" height="43.14" fill="#ffc6b2"/>
<rect x="258.61" y="910.26" width="42.50" height="43.14" fill="#ffc2ad"/>
<rect x="301.11" y="910.26" width="42.50" height="43.14" fill="#ffd3c4"/>
<rect x="343.62" y="910.26" width="42.50" height="43.14" fill="#ffc6b2"/>
<rect x="386.12" y="910.26" width="42.50" height="43.14" fill="#ffbaa3"/>
<rect x="428.63" y="910.26" width="42.50" height="43.14" fill="#ffae95"/>
<rect x="471.13" y="910.26" width="42.50" height="43.14" fill="#ffb69e"/>
<rect x="513.64" y="910.26" width="42.50" height="43.14" fill="#ffc2ad"/>
<rect x="556.14" y="910.26" width="42.50" height="43.14" fill="#ffbaa3"/>
<rect x="598.65" y="910.26" width="42.50" height="43.14" fill="#ff8d6e"/>
<rect x="641.15" y="910.26" width="42.50" height="43.14" fill="#ffb299"/>
<rect x="683.65" y="910.26" width="42.50" height="43.14" fill="#ffb097"/>
<rect x="726.16" y="910.26" width="42.50" height="43.14" fill="#ff9e81"/>
<rect x="768.66" y="910.26" width="42.50" height="43.14" fill="#ffa286"/>
<rect x="811.17" y="910.26" width="42.50" height="43.14" fill="#ffae95"/>
<rect x="853.67" y="910.26" width="42.50" height="43.14" fill="#ff8767"/>
<rect x="896.18" y="910.26" width="42.50" height="43.14" fill="#ff8969"/>
<rect x="938.68" y="910.26" width="42.50" height="43.14" fill="#ffa488"/>
<rect x="981.19" y="910.26" width="42.50" height="43.14" fill="#ffb299"/>
<rect x="1023.69" y="910.26" width="42.50" height="43.14" fill="#ff4a2c"/>
</g>
<g class="t">
<text x="239.86" y="32.37">0.90</text>
<text x="282.36" y="32.37">0.70</text>
<text x="324.87" y="32.37">0.66</text>
<text x="367.37" y="32.37">0.78</text>
<text x="409.88" y="32.37">0.76</text>
<text x="452.38" y="32.37">0.67</text>
<text x="494.88" y="32.37">0.69</text>
<text x="537.39" y="32.37">0.74</text>
<text x="579.89" y="32.37">0.91</text>
<text x="622.40" y="32.37">0.95</text>
<text x="664.90" y="32.37">0.86</text>
<text x="707.41" y="32.37">0.83</text>
<text x="749.91" y="32.37">0.84</text>
<text x="792.42" y="32.37">0.90</text>
<text x="834.92" y="32.37">0.86</text>
<text x="877.43" y="32.37">0.71</text>
<text x="919.93" y="32.37">0.79</text>
<text x="962.43" y="32.37">0.76</text>
<text x="1004.94" y="32.37">0.76</text>
<text x="1047.44" y="32.37">0.69</text>
<text x="1089.95" y="32.37">0.68</text>
<text x="197.35" y="75.51">0.90</text>
<text x="282.36" y="75.51">0.81</text>
<text x="324.87" y="75.51">0.77</text>
<text x="367.37" y="75.51">0.86</text>
<text x="409.88" y="75.51">0.85</text>
<text x="452.38" y="75.51">0.78</text>
<text x="494.88" y="75.51">0.80</text>
<text x="537.39" y="75.51">0.84</text>
<text x="579.89" y="75.51">0.93</text>
<text x="622.40" y="75.51">0.91</text>
<text x="664.90" y="75.51">0.91</text>
<text x="707.41" y="75.51">0.87</text>
<text x="749.91" y="75.51">0.81</text>
<text x="792.42" y="75.51">0.91</text>
<text x="834.92" y="75.51">0.82</text>
<text x="877.43" y="75.51">0.48</text>
<text x="919.93" y="75.51">0.61</text>
<text x="962.43" y="75.51">0.57</text>
<text x="1004.94" y="75.51">0.65</text>
<text x="1047.44" y="75.51">0.31</text>
<text x="1089.95" y="75.51">0.37</text>
<text x="197.35" y="118.65">0.77</text>
<text x="239.86" y="118.65">0.81</text>
<text x="324.87" y="118.65">0.90</text>
<text x="367.37" y="118.65">0.86</text>
<text x="409.88" y="118.65">0.90</text>
<text x="452.38" y="118.65">0.87</text>
<text x="494.88" y="118.65">0.90</text>
<text x="537.39" y="118.65">0.91</text>
<text x="579.89" y="118.65">0.79</text>
<text x="622.40" y="118.65">0.75</text>
<text x="664.90" y="118.65">0.78</text>
<text x="707.41" y="118.65">0.71</text>
<text x="749.91" y="118.65">0.62</text>
<text x="792.42" y="118.65">0.73</text>
<text x="834.92" y="118.65">0.63</text>
<text x="877.43" y="118.65">0.35</text>
<text x="919.93" y="118.65">0.55</text>
<text x="962.43" y="118.65">0.38</text>
<text x="1004.94" y="118.65">0.49</text>
<text x="1047.44" y="118.65">0.19</text>
<text x="1089.95" y="118.65">0.19</text>
<text x="197.35" y="161.79">0.68</text>
<text x="239.86" y="161.79">0.74</text>
<text x="282.36" y="161.79">0.82</text>
<text x="367.37" y="161.79">0.83</text>
<text x="409.88" y="161.79">0.85</text>
<text x="452.38" y="161.79">0.84</text>
<text x="494.88" y="161.79">0.83</text>
<text x="537.39" y="161.79">0.84</text>
<text x="579.89" y="161.79">0.75</text>
<text x="622.40" y="161.79">0.71</text>
<text x="664.90" y="161.79">0.73</text>
<text x="707.41" y="161.79">0.65</text>
<text x="749.91" y="161.79">0.57</text>
<text x="792.42" y="161.79">0.70</text>
<text x="834.92" y="161.79">0.57</text>
<text x="877.43" y="161.79">0.27</text>
<text x="919.93" y="161.79">0.50</text>
<text x="962.43" y="161.79">0.34</text>
<text x="1004.94" y="161.79">0.46</text>
<text x="1047.44" y="161.79">0.16</text>
<text x="1089.95" y="161.79">0.16</text>
<text x="197.35" y="204.93">0.76</text>
<text x="239.86" y="204.93">0.82</text>
<text x="282.36" y="204.93">0.82</text>
<text x="324.87" y="204.93">0.75</text>
<text x="409.88" y="204.93">0.90</text>
<text x="452.38" y="204.93">0.78</text>
<text x="494.88" y="204.93">0.83</text>
<text x="537.39" y="204.93">0.88</text>
<text x="579.89" y="204.93">0.85</text>
<text x="622.40" y="204.93">0.80</text>
<text x="664.90" y="204.93">0.82</text>
<text x="707.41" y="204.93">0.76</text>
<text x="749.91" y="204.93">0.67</text>
<text x="792.42" y="204.93">0.77</text>
<text x="834.92" y="204.93">0.64</text>
<text x="877.43" y="204.93">0.43</text>
<text x="919.93" y="204.93">0.55</text>
<text x="962.43" y="204.93">0.44</text>
<text x="1004.94" y="204.93">0.49</text>
<text x="1047.44" y="204.93">0.26</text>
<text x="1089.95" y="204.93">0.28</text>
<text x="197.35" y="248.08">0.81</text>
<text x="239.86" y="248.08">0.84</text>
<text x="282.36" y="248.08">0.83</text>
<text x="324.87" y="248.08">0.77</text>
<text x="367.37" y="248.08">0.86</text>
<text x="452.38" y="248.08">0.84</text>
<text x="494.88" y="248.08">0.85</text>
<text x="537.39" y="248.08">0.96</text>
<text x="579.89" y="248.08">0.81</text>
<text x="622.40" y="248.08">0.80</text>
<text x="664.90" y="248.08">0.81</text>
<text x="707.41" y="248.08">0.75</text>
<text x="749.91" y="248.08">0.68</text>
<text x="792.42" y="248.08">0.76</text>
<text x="834.92" y="248.08">0.66</text>
<text x="877.43" y="248.08">0.41</text>
<text x="919.93" y="248.08">0.58</text>
<text x="962.43" y="248.08">0.47</text>
<text x="1004.94" y="248.08">0.50</text>
<text x="1047.44" y="248.08">0.26</text>
<text x="1089.95" y="248.08">0.25</text>
<text x="197.35" y="291.22">0.76</text>
<text x="239.86" y="291.22">0.74</text>
<text x="282.36" y="291.22">0.83</text>
<text x="324.87" y="291.22">0.80</text>
<text x="367.37" y="291.22">0.73</text>
<text x="409.88" y="291.22">0.79</text>
<text x="494.88" y="291.22">0.87</text>
<text x="537.39" y="291.22">0.83</text>
<text x="579.89" y="291.22">0.75</text>
<text x="622.40" y="291.22">0.71</text>
<text x="664.90" y="291.22">0.71</text>
<text x="707.41" y="291.22">0.65</text>
<text x="749.91" y="291.22">0.58</text>
<text x="792.42" y="291.22">0.71</text>
<text x="834.92" y="291.22">0.60</text>
<text x="877.43" y="291.22">0.30</text>
<text x="919.93" y="291.22">0.48</text>
<text x="962.43" y="291.22">0.32</text>
<text x="1004.94" y="291.22">0.46</text>
<text x="1047.44" y="291.22">0.16</text>
<text x="1089.95" y="291.22">0.16</text>
<text x="197.35" y="334.36">0.76</text>
<text x="239.86" y="334.36">0.76</text>
<text x="282.36" y="334.36">0.81</text>
<text x="324.87" y="334.36">0.75</text>
<text x="367.37" y="334.36">0.77</text>
<text x="409.88" y="334.36">0.79</text>
<text x="452.38" y="334.36">0.86</text>
<text x="537.39" y="334.36">0.86</text>
<text x="579.89" y="334.36">0.76</text>
<text x="622.40" y="334.36">0.74</text>
<text x="664.90" y="334.36">0.75</text>
<text x="707.41" y="334.36">0.69</text>
<text x="749.91" y="334.36">0.58</text>
<text x="792.42" y="334.36">0.74</text>
<text x="834.92" y="334.36">0.63</text>
<text x="877.43" y="334.36">0.35</text>
<text x="919.93" y="334.36">0.47</text>
<text x="962.43" y="334.36">0.31</text>
<text x="1004.94" y="334.36">0.47</text>
<text x="1047.44" y="334.36">0.16</text>
<text x="1089.95" y="334.36">0.18</text>
<text x="197.35" y="377.50">0.77</text>
<text x="239.86" y="377.50">0.80</text>
<text x="282.36" y="377.50">0.83</text>
<text x="324.87" y="377.50">0.76</text>
<text x="367.37" y="377.50">0.84</text>
<text x="409.88" y="377.50">0.92</text>
<text x="452.38" y="377.50">0.78</text>
<text x="494.88" y="377.50">0.78</text>
<text x="579.89" y="377.50">0.82</text>
<text x="622.40" y="377.50">0.79</text>
<text x="664.90" y="377.50">0.80</text>
<text x="707.41" y="377.50">0.74</text>
<text x="749.91" y="377.50">0.67</text>
<text x="792.42" y="377.50">0.76</text>
<text x="834.92" y="377.50">0.64</text>
<text x="877.43" y="377.50">0.37</text>
<text x="919.93" y="377.50">0.55</text>
<text x="962.43" y="377.50">0.43</text>
<text x="1004.94" y="377.50">0.49</text>
<text x="1047.44" y="377.50">0.23</text>
<text x="1089.95" y="377.50">0.23</text>
<text x="197.35" y="420.64">0.89</text>
<text x="239.86" y="420.64">0.91</text>
<text x="282.36" y="420.64">0.79</text>
<text x="324.87" y="420.64">0.69</text>
<text x="367.37" y="420.64">0.78</text>
<text x="409.88" y="420.64">0.82</text>
<text x="452.38" y="420.64">0.70</text>
<text x="494.88" y="420.64">0.72</text>
<text x="537.39" y="420.64">0.79</text>
<text x="622.40" y="420.64">0.91</text>
<text x="664.90" y="420.64">0.89</text>
<text x="707.41" y="420.64">0.83</text>
<text x="749.91" y="420.64">0.80</text>
<text x="792.42" y="420.64">0.89</text>
<text x="834.92" y="420.64">0.78</text>
<text x="877.43" y="420.64">0.55</text>
<text x="919.93" y="420.64">0.69</text>
<text x="962.43" y="420.64">0.60</text>
<text x="1004.94" y="420.64">0.66</text>
<text x="1047.44" y="420.64">0.44</text>
<text x="1089.95" y="420.64">0.46</text>
<text x="197.35" y="463.78">0.96</text>
<text x="239.86" y="463.78">0.88</text>
<text x="282.36" y="463.78">0.78</text>
<text x="324.87" y="463.78">0.68</text>
<text x="367.37" y="463.78">0.75</text>
<text x="409.88" y="463.78">0.79</text>
<text x="452.38" y="463.78">0.77</text>
<text x="494.88" y="463.78">0.77</text>
<text x="537.39" y="463.78">0.76</text>
<text x="579.89" y="463.78">0.86</text>
<text x="664.90" y="463.78">0.88</text>
<text x="707.41" y="463.78">0.83</text>
<text x="749.91" y="463.78">0.84</text>
<text x="792.42" y="463.78">0.91</text>
<text x="834.92" y="463.78">0.84</text>
<text x="877.43" y="463.78">0.64</text>
<text x="919.93" y="463.78">0.75</text>
<text x="962.43" y="463.78">0.69</text>
<text x="1004.94" y="463.78">0.71</text>
<text x="1047.44" y="463.78">0.57</text>
<text x="1089.95" y="463.78">0.57</text>
<text x="197.35" y="506.92">0.86</text>
<text x="239.86" y="506.92">0.87</text>
<text x="282.36" y="506.92">0.80</text>
<text x="324.87" y="506.92">0.68</text>
<text x="367.37" y="506.92">0.72</text>
<text x="409.88" y="506.92">0.75</text>
<text x="452.38" y="506.92">0.70</text>
<text x="494.88" y="506.92">0.71</text>
<text x="537.39" y="506.92">0.71</text>
<text x="579.89" y="506.92">0.85</text>
<text x="622.40" y="506.92">0.86</text>
<text x="707.41" y="506.92">0.96</text>
<text x="749.91" y="506.92">0.92</text>
<text x="792.42" y="506.92">0.87</text>
<text x="834.92" y="506.92">0.77</text>
<text x="877.43" y="506.92">0.54</text>
<text x="919.93" y="506.92">0.61</text>
<text x="962.43" y="506.92">0.61</text>
<text x="1004.94" y="506.92">0.58</text>
<text x="1047.44" y="506.92">0.37</text>
<text x="1089.95" y="506.92">0.42</text>
<text x="197.35" y="550.06">0.85</text>
<text x="239.86" y="550.06">0.85</text>
<text x="282.36" y="550.06">0.78</text>
<text x="324.87" y="550.06">0.64</text>
<text x="367.37" y="550.06">0.71</text>
<text x="409.88" y="550.06">0.73</text>
<text x="452.38" y="550.06">0.66</text>
<text x="494.88" y="550.06">0.68</text>
<text x="537.39" y="550.06">0.70</text>
<text x="579.89" y="550.06">0.83</text>
<text x="622.40" y="550.06">0.85</text>
<text x="664.90" y="550.06">0.96</text>
<text x="749.91" y="550.06">0.91</text>
<text x="792.42" y="550.06">0.83</text>
<text x="834.92" y="550.06">0.74</text>
<text x="877.43" y="550.06">0.55</text>
<text x="919.93" y="550.06">0.60</text>
<text x="962.43" y="550.06">0.60</text>
<text x="1004.94" y="550.06">0.55</text>
<text x="1047.44" y="550.06">0.38</text>
<text x="1089.95" y="550.06">0.44</text>
<text x="197.35" y="593.20">0.88</text>
<text x="239.86" y="593.20">0.83</text>
<text x="282.36" y="593.20">0.74</text>
<text x="324.87" y="593.20">0.63</text>
<text x="367.37" y="593.20">0.65</text>
<text x="409.88" y="593.20">0.70</text>
<text x="452.38" y="593.20">0.68</text>
<text x="494.88" y="593.20">0.68</text>
<text x="537.39" y="593.20">0.66</text>
<text x="579.89" y="593.20">0.84</text>
<text x="622.40" y="593.20">0.88</text>
<text x="664.90" y="593.20">0.93</text>
<text x="707.41" y="593.20">0.92</text>
<text x="792.42" y="593.20">0.81</text>
<text x="834.92" y="593.20">0.73</text>
<text x="877.43" y="593.20">0.62</text>
<text x="919.93" y="593.20">0.69</text>
<text x="962.43" y="593.20">0.73</text>
<text x="1004.94" y="593.20">0.59</text>
<text x="1047.44" y="593.20">0.50</text>
<text x="1089.95" y="593.20">0.54</text>
<text x="197.35" y="636.34">0.91</text>
<text x="239.86" y="636.34">0.88</text>
<text x="282.36" y="636.34">0.77</text>
<text x="324.87" y="636.34">0.67</text>
<text x="367.37" y="636.34">0.74</text>
<text x="409.88" y="636.34">0.79</text>
<text x="452.38" y="636.34">0.75</text>
<text x="494.88" y="636.34">0.74</text>
<text x="537.39" y="636.34">0.76</text>
<text x="579.89" y="636.34">0.86</text>
<text x="622.40" y="636.34">0.92</text>
<text x="664.90" y="636.34">0.85</text>
<text x="707.41" y="636.34">0.83</text>
<text x="749.91" y="636.34">0.86</text>
<text x="834.92" y="636.34">0.82</text>
<text x="877.43" y="636.34">0.56</text>
<text x="919.93" y="636.34">0.64</text>
<text x="962.43" y="636.34">0.61</text>
<text x="1004.94" y="636.34">0.70</text>
<text x="1047.44" y="636.34">0.46</text>
<text x="1089.95" y="636.34">0.49</text>
<text x="197.35" y="679.48">0.81</text>
<text x="239.86" y="679.48">0.79</text>
<text x="282.36" y="679.48">0.66</text>
<text x="324.87" y="679.48">0.59</text>
<text x="367.37" y="679.48">0.60</text>
<text x="409.88" y="679.48">0.67</text>
<text x="452.38" y="679.48">0.64</text>
<text x="494.88" y="679.48">0.63</text>
<text x="537.39" y="679.48">0.63</text>
<text x="579.89" y="679.48">0.77</text>
<text x="622.40" y="679.48">0.82</text>
<text x="664.90" y="679.48">0.79</text>
<text x="707.41" y="679.48">0.77</text>
<text x="749.91" y="679.48">0.82</text>
<text x="792.42" y="679.48">0.86</text>
<text x="877.43" y="679.48">0.58</text>
<text x="919.93" y="679.48">0.68</text>
<text x="962.43" y="679.48">0.64</text>
<text x="1004.94" y="679.48">0.68</text>
<text x="1047.44" y="679.48">0.53</text>
<text x="1089.95" y="679.48">0.53</text>
<text x="197.35" y="722.63">0.74</text>
<text x="239.86" y="722.63">0.56</text>
<text x="282.36" y="722.63">0.51</text>
<text x="324.87" y="722.63">0.45</text>
<text x="367.37" y="722.63">0.47</text>
<text x="409.88" y="722.63">0.51</text>
<text x="452.38" y="722.63">0.55</text>
<text x="494.88" y="722.63">0.51</text>
<text x="537.39" y="722.63">0.48</text>
<text x="579.89" y="722.63">0.61</text>
<text x="622.40" y="722.63">0.72</text>
<text x="664.90" y="722.63">0.64</text>
<text x="707.41" y="722.63">0.63</text>
<text x="749.91" y="722.63">0.68</text>
<text x="792.42" y="722.63">0.68</text>
<text x="834.92" y="722.63">0.63</text>
<text x="919.93" y="722.63">0.66</text>
<text x="962.43" y="722.63">0.73</text>
<text x="1004.94" y="722.63">0.54</text>
<text x="1047.44" y="722.63">0.76</text>
<text x="1089.95" y="722.63">0.70</text>
<text x="197.35" y="765.77">0.77</text>
<text x="239.86" y="765.77">0.62</text>
<text x="282.36" y="765.77">0.54</text>
<text x="324.87" y="765.77">0.44</text>
<text x="367.37" y="765.77">0.54</text>
<text x="409.88" y="765.77">0.60</text>
<text x="452.38" y="765.77">0.57</text>
<text x="494.88" y="765.77">0.51</text>
<text x="537.39" y="765.77">0.55</text>
<text x="579.89" y="765.77">0.70</text>
<text x="622.40" y="765.77">0.74</text>
<text x="664.90" y="765.77">0.64</text>
<text x="707.41" y="765.77">0.64</text>
<text x="749.91" y="765.77">0.70</text>
<text x="792.42" y="765.77">0.72</text>
<text x="834.92" y="765.77">0.63</text>
<text x="877.43" y="765.77">0.62</text>
<text x="962.43" y="765.77">0.68</text>
<text x="1004.94" y="765.77">0.71</text>
<text x="1047.44" y="765.77">0.73</text>
<text x="1089.95" y="765.77">0.68</text>
<text x="197.35" y="808.91">0.63</text>
<text x="239.86" y="808.91">0.50</text>
<text x="282.36" y="808.91">0.42</text>
<text x="324.87" y="808.91">0.40</text>
<text x="367.37" y="808.91">0.41</text>
<text x="409.88" y="808.91">0.44</text>
<text x="452.38" y="808.91">0.42</text>
<text x="494.88" y="808.91">0.40</text>
<text x="537.39" y="808.91">0.40</text>
<text x="579.89" y="808.91">0.51</text>
<text x="622.40" y="808.91">0.57</text>
<text x="664.90" y="808.91">0.61</text>
<text x="707.41" y="808.91">0.62</text>
<text x="749.91" y="808.91">0.66</text>
<text x="792.42" y="808.91">0.53</text>
<text x="834.92" y="808.91">0.53</text>
<text x="877.43" y="808.91">0.51</text>
<text x="919.93" y="808.91">0.52</text>
<text x="1004.94" y="808.91">0.60</text>
<text x="1047.44" y="808.91">0.72</text>
<text x="1089.95" y="808.91">0.71</text>
<text x="197.35" y="852.05">0.69</text>
<text x="239.86" y="852.05">0.64</text>
<text x="282.36" y="852.05">0.51</text>
<text x="324.87" y="852.05">0.49</text>
<text x="367.37" y="852.05">0.45</text>
<text x="409.88" y="852.05">0.50</text>
<text x="452.38" y="852.05">0.49</text>
<text x="494.88" y="852.05">0.50</text>
<text x="537.39" y="852.05">0.46</text>
<text x="579.89" y="852.05">0.65</text>
<text x="622.40" y="852.05">0.68</text>
<text x="664.90" y="852.05">0.67</text>
<text x="707.41" y="852.05">0.66</text>
<text x="749.91" y="852.05">0.69</text>
<text x="792.42" y="852.05">0.64</text>
<text x="834.92" y="852.05">0.66</text>
<text x="877.43" y="852.05">0.53</text>
<text x="919.93" y="852.05">0.54</text>
<text x="962.43" y="852.05">0.55</text>
<text x="1047.44" y="852.05">0.57</text>
<text x="1089.95" y="852.05">0.54</text>
<text x="197.35" y="895.19">0.66</text>
<text x="239.86" y="895.19">0.27</text>
<text x="282.36" y="895.19">0.31</text>
<text x="324.87" y="895.19">0.23</text>
<text x="367.37" y="895.19">0.27</text>
<text x="409.88" y="895.19">0.35</text>
<text x="452.38" y="895.19">0.41</text>
<text x="494.88" y="895.19">0.36</text>
<text x="537.39" y="895.19">0.31</text>
<text x="579.89" y="895.19">0.39</text>
<text x="622.40" y="895.19">0.60</text>
<text x="664.90" y="895.19">0.39</text>
<text x="707.41" y="895.19">0.41</text>
<text x="749.91" y="895.19">0.52</text>
<text x="792.42" y="895.19">0.49</text>
<text x="834.92" y="895.19">0.44</text>
<text x="877.43" y="895.19">0.65</text>
<text x="919.93" y="895.19">0.66</text>
<text x="962.43" y="895.19">0.51</text>
<text x="1004.94" y="895.19">0.43</text>
<text x="1089.95" y="895.19">0.87</text>
<text x="197.35" y="938.33">0.62</text>
<text x="239.86" y="938.33">0.30</text>
<text x="282.36" y="938.33">0.32</text>
<text x="324.87" y="938.33">0.23</text>
<text x="367.37" y="938.33">0.30</text>
<text x="409.88" y="938.33">0.36</text>
<text x="452.38" y="938.33">0.42</text>
<text x="494.88" y="938.33">0.38</text>
<text x="537.39" y="938.33">0.32</text>
<text x="579.89" y="938.33">0.36</text>
<text x="622.40" y="938.33">0.58</text>
<text x="664.90" y="938.33">0.40</text>
<text x="707.41" y="938.33">0.41</text>
<text x="749.91" y="938.33">0.50</text>
<text x="792.42" y="938.33">0.48</text>
<text x="834.92" y="938.33">0.42</text>
<text x="877.43" y="938.33">0.61</text>
<text x="919.93" y="938.33">0.60</text>
<text x="962.43" y="938.33">0.47</text>
<text x="1004.94" y="938.33">0.40</text>
<text x="1047.44" y="938.33">0.86</text>
</g>
<g class="ay">
<text x="161.80" y="32.59">weight</text>
<text x="161.80" y="75.73">bmi</text>
<text x="161.80" y="118.87">tricepsSF</text>
<text x="161.80" y="162.01">bicepsSF</text>
<text x="161.80" y="205.15">subscapularSF</text>
<text x="161.80" y="248.29">suprailiacSF</text>
<text x="161.80" y="291.44">calfSF</text>
<text x="161.80" y="334.58">frontthighSF</text>
<text x="161.80" y="377.72">abdominalSF</text>
<text x="161.80" y="420.86">waistC</text>
<text x="161.80" y="464.00">hipC</text>
<text x="161.80" y="507.14">upperarmC</text>
<text x="161.80" y="550.28">upperarmflexedC</text>
<text x="161.80" y="593.42">forearmC</text>
<text x="161.80" y="636.56">thighC</text>
<text x="161.80" y="679.70">calfC</text>
<text x="161.80" y="722.84">biacromialD</text>
<text x="161.80" y="765.99">bicristalD</text>
<text x="161.80" y="809.13">humerusD</text>
<text x="161.80" y="852.27">femurD</text>
<text x="161.80" y="895.41">height</text>
<text x="161.80" y="938.55">sittingheight</text>
</g>
<g class="ax">
<text transform="translate(194.85,965.21) rotate(-45)" x="0" y="13.69">weight</text>
<text transform="translate(237.36,965.21) rotate(-45)" x="0" y="13.69">bmi</text>
<text transform="translate(279.86,965.21) rotate(-45)" x="0" y="13.69">tricepsSF</text>
<text transform="translate(322.37,965.21) rotate(-45)" x="0" y="13.69">bicepsSF</text>
<text transform="translate(364.87,965.21) rotate(-45)" x="0" y="13.69">subscapularSF</text>
<text transform="translate(407.38,965.21) rotate(-45)" x="0" y="13.69">suprailiacSF</text>
<text transform="translate(449.88,965.21) rotate(-45)" x="0" y="13.69">calfSF</text>
<text transform="translate(492.38,965.21) rotate(-45)" x="0" y="13.69">frontthighSF</text>
<text transform="translate(534.89,965.21) rotate(-45)" x="0" y="13.69">abdominalSF</text>
<text transform="translate(577.39,965.21) rotate(-45)" x="0" y="13.69">waistC</text>
<text transform="translate(619.90,965.21) rotate(-45)" x="0" y="13.69">hipC</text>
<text transform="translate(662.40,965.21) rotate(-45)" x="0" y="13.69">upperarmC</text>
<text transform="translate(704.91,965.21) rotate(-45)" x="0" y="13.69">upperarmflexedC</text>
<text transform="translate(747.41,965.21) rotate(-45)" x="0" y="13.69">forearmC</text>
<text transform="translate(789.92,965.21) rotate(-45)" x="0" y="13.69">thighC</text>
<text transform="translate(832.42,965.21) rotate(-45)" x="0" y="13.69">calfC</text>
<text transform="translate(874.93,965.21) rotate(-45)" x="0" y="13.69">biacromialD</text>
<text transform="translate(917.43,965.21) rotate(-45)" x="0" y="13.69">bicristalD</text>
<text transform="translate(959.93,965.21) rotate(-45)" x="0" y="13.69">humerusD</text>
<text transform="translate(1002.44,965.21) rotate(-45)" x="0" y="13.69">femurD</text>
<text transform="translate(1044.94,965.21) rotate(-45)" x="0" y="13.69">height</text>
<text transform="translate(1087.45,965.21) rotate(-45)" x="0" y="13.69">sittingheight</text>
</g>
<text class="ti" text-anchor="middle" x="641.15" y="1093.80">Trait</text>
<text class="ti" text-anchor="middle" transform="translate(12.50,478.85) rotate(-90)">Trait</text>
<defs><linearGradient id="cg" x1="0" y1="0" x2="0" y2="1">
<stop offset="0.0000" stop-color="#ff0000"/>
<stop offset="0.0250" stop-color="#ff2913"/>
<stop offset="0.0500" stop-color="#ff3e22"/>
<stop offset="0.0750" stop-color="#ff4d2e"/>
<stop offset="0.1000" stop-color="#ff5b3a"/>
<stop offset="0.1250" stop-color="#ff6846"/>
<stop offset="0.1500" stop-color="#ff7352"/>
<stop offset="0.1750" stop-color="#ff7e5e"/>
<stop offset="0.2000" stop-color="#ff8969"/>
<stop offset="0.2250" stop-color="#ff9475"/>
<stop offset="0.2500" stop-color="#ff9e81"/>
<stop offset="0.2750" stop-color="#ffa88d"/>
<stop offset="0.3000" stop-color="#ffb299"/>
<stop offset="0.3250" stop-color="#ffbca6"/>
<stop offset="0.3500" stop-color="#ffc6b2"/>
<stop offset="0.3750" stop-color="#ffcfbf"/>
<stop offset="0.4000" stop-color="#ffd9cb"/>
<stop offset="0.4250" stop-color="#ffe2d8"/>
<stop offset="0.4500" stop-color="#ffece5"/>
<stop offset="0.4750" stop-color="#fff5f2"/>
<stop offset="0.5000" stop-color="#ffffff"/>
<stop offset="0.5250" stop-color="#f8f3ff"/>
<stop offset="0.5500" stop-color="#f2e7ff"/>
<stop offset="0.5750" stop-color="#ebdcff"/>
<stop offset="0.6000" stop-color="#e3d0ff"/>
<stop offset="0.6250" stop-color="#dcc4ff"/>
<stop offset="0.6500" stop-color="#d4b9ff"/>
<stop offset="0.6750" stop-color="#ccadff"/>
<stop offset="0.7000" stop-color="#c4a2ff"/>
<stop offset="0.7250" stop-color="#bc97ff"/>
<stop offset="0.7500" stop-color="#b38bff"/>
<stop offset="0.7750" stop-color="#aa80ff"/>
<stop offset="0.8000" stop-color="#a074ff"/>
<stop offset="0.8250" stop-color="#9569ff"/>
<stop offset="0.8500" stop-color="#8a5dff"/>
<stop offset="0.8750" stop-color="#7e52ff"/>
<stop offset="0.9000" stop-color="#7145ff"/>
<stop offset="0.9250" stop-color="#6239ff"/>
<stop offset="0.9500" stop-color="#502bff"/>
<stop offset="0.9750" stop-color="#381bff"/>
<stop offset="1.0000" stop-color="#0000ff"/>
</linearGradient></defs>
<text class="ti" style="font-size:17.6px" x="1138.00" y="414.00">Corr</text>
<rect x="1138.00" y="424.30" width="27.10" height="133.10" fill="url(#cg)"/>
<g stroke="#fff" stroke-width="1.1">
<line x1="1138.00" y1="457.57" x2="1143.42" y2="457.57"/>
<line x1="1159.68" y1="457.57" x2="1165.10" y2="457.57"/>
<line x1="1138.00" y1="524.12" x2="1143.42" y2="524.12"/>
<line x1="1159.68" y1="524.12" x2="1165.10" y2="524.12"/>
</g>
<g class="lg">
<text transform="translate(1173.50,429.30) scale(1,1.075)">1.0</text>
<text transform="translate(1173.50,462.57) scale(1,1.075)">0.5</text>
<text transform="translate(1173.50,495.85) scale(1,1.075)">0.0</text>
<text transform="translate(1173.50,529.12) scale(1,1.075)">−0.5</text>
<text transform="translate(1173.50,562.40) scale(1,1.075)">−1.0</text>
</g>
</svg></body></html>
